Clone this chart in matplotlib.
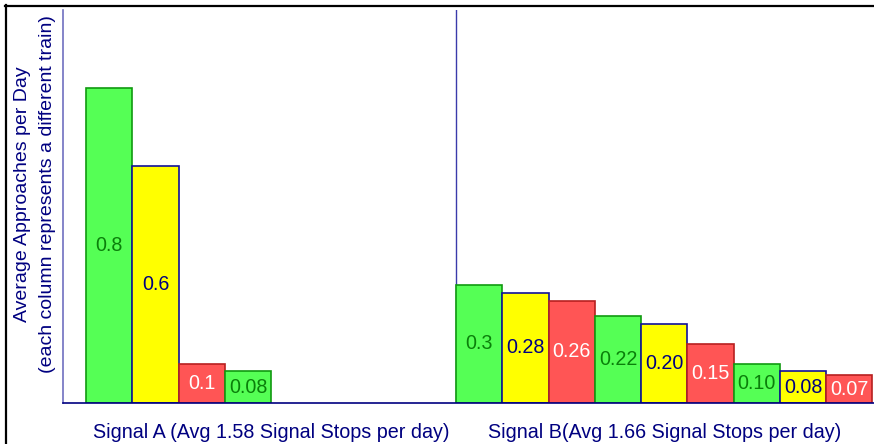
import matplotlib
matplotlib.use("Agg")
import matplotlib.pyplot as plt
from matplotlib.lines import Line2D

plt.rcParams['font.family'] = ['Liberation Sans', 'DejaVu Sans']

# ---- data ----
group_labels = ["Signal A (Avg 1.58 Signal Stops per day)",
                "Signal B(Avg 1.66 Signal Stops per day)"]
values_a = [0.8, 0.6, 0.1, 0.08]
texts_a = ["0.8", "0.6", "0.1", "0.08"]
values_b = [0.3, 0.28, 0.26, 0.22, 0.20, 0.15, 0.10, 0.08, 0.07]
texts_b = ["0.3", "0.28", "0.26", "0.22", "0.20", "0.15", "0.10", "0.08", "0.07"]
ylabel_1 = "Average Approaches per Day"
ylabel_2 = "(each column represents a different train)"

# ---- styles ----
styles = {
    "g": dict(fc="#55FF55", ec="#109a10", tc="#0a7f0a"),
    "y": dict(fc="#FFFF00", ec="#10109a", tc="#000080"),
    "r": dict(fc="#FF5555", ec="#b82020", tc="#FFFFFF"),
}
cycle = ["g", "y", "r"]
colors_a = ["g", "y", "r", "g"]
colors_b = [cycle[i % 3] for i in range(len(values_b))]

W, H = 874, 444
fig = plt.figure(figsize=(W / 100, H / 100), dpi=100)
ax = fig.add_axes([63 / W, (H - 403) / H, (W - 63) / W, (403 - 10) / H])

start_a, start_b = 1.0, 9.0
for start, vals, txts, cols in [(start_a, values_a, texts_a, colors_a),
                                (start_b, values_b, texts_b, colors_b)]:
    for i, (v, t, c) in enumerate(zip(vals, txts, cols)):
        s = styles[c]
        x = start + i
        ax.bar(x, v, width=1.0, color=s["fc"], edgecolor=s["ec"], linewidth=1.2, zorder=2)
        ax.text(x, v / 2, t, ha="center", va="center", fontsize=14.2, color=s["tc"], zorder=3)

ax.set_xlim(0, (W - 63) / 46.25)
ax.set_ylim(0, 0.997)
ax.axvline(8.5, color="#3a3aaa", lw=1.0, zorder=1)
ax.set_xticks([])
ax.set_yticks([])
for sp in ["top", "right"]:
    ax.spines[sp].set_visible(False)
ax.spines["left"].set_color("#7070c0")
ax.spines["left"].set_linewidth(1.2)
ax.spines["bottom"].set_color("#000080")
ax.spines["bottom"].set_linewidth(1.2)

# group labels
ax.text(4.5, -0.075, group_labels[0], ha="center", va="center", fontsize=14.2,
        color="#000080", transform=ax.transData, clip_on=False)
ax.text(13.0, -0.075, group_labels[1], ha="center", va="center", fontsize=14.2,
        color="#000080", transform=ax.transData, clip_on=False)

# y label (two lines)
fig.text(23 / W, 1 - 194 / H, ylabel_1, rotation=90, ha="center", va="center",
         fontsize=14, color="#000080")
fig.text(48 / W, 1 - 194 / H, ylabel_2, rotation=90, ha="center", va="center",
         fontsize=14, color="#000080")

# outer black frame (left and top visible)
fig.add_artist(Line2D([6 / W, 6 / W], [0, 1 - 5 / H], transform=fig.transFigure,
                      color="black", lw=1.6))
fig.add_artist(Line2D([5 / W, 1], [1 - 5.8 / H, 1 - 5.8 / H], transform=fig.transFigure,
                      color="black", lw=1.6))

fig.savefig("out.png", dpi=100)
